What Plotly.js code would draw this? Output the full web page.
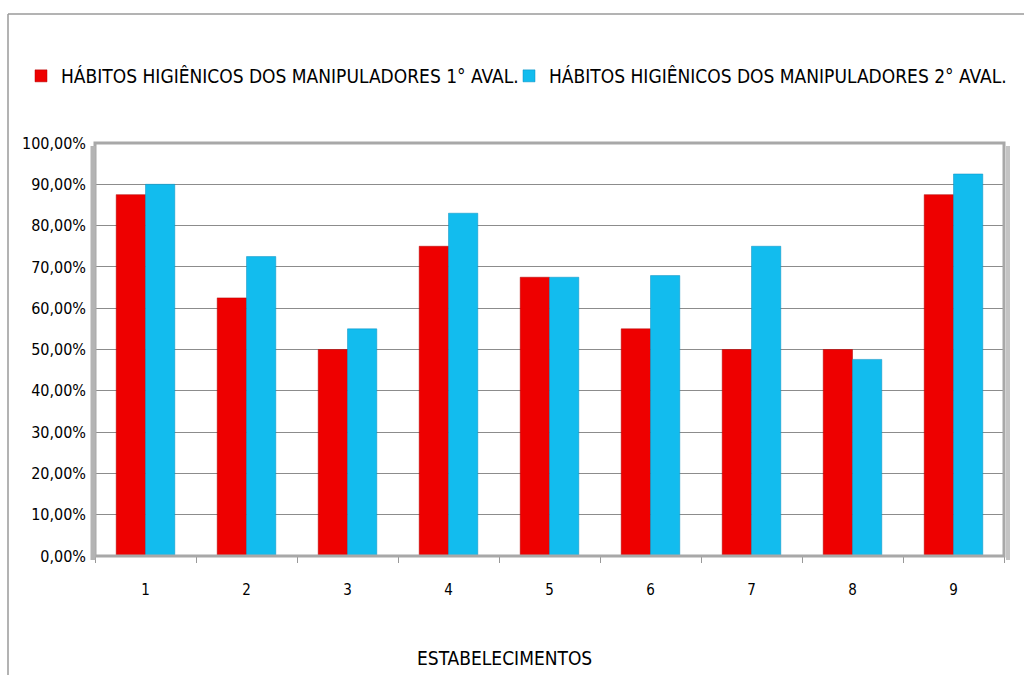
<!DOCTYPE html>
<html>
<head>
<meta charset="utf-8">
<script src="https://cdn.plot.ly/plotly-3.0.1.min.js"></script>
<style>
html,body{margin:0;padding:0;background:#fff;}
#chart{width:1024px;height:675px;}
</style>
</head>
<body>
<div id="chart"></div>
<script>
const categories = ["1","2","3","4","5","6","7","8","9"];
const series1Name = "HÁBITOS HIGIÊNICOS DOS MANIPULADORES 1° AVAL.";
const series2Name = "HÁBITOS HIGIÊNICOS DOS MANIPULADORES 2° AVAL.";
const aval1 = [87.5, 62.5, 50, 75, 67.5, 55, 50, 50, 87.5];
const aval2 = [90, 72.5, 55, 83, 67.5, 67.9, 75, 47.6, 92.5];
const xTitle = "ESTABELECIMENTOS";

const font = "'DejaVu Sans Condensed', 'Liberation Sans', Arial, sans-serif";

const traces = [
  {type:"bar", name:series1Name, x:categories, y:aval1, legend:"legend",
   marker:{color:"#ee0000", line:{color:"#b00000", width:0.5}}, hoverinfo:"y"},
  {type:"bar", name:series2Name, x:categories, y:aval2, legend:"legend2",
   marker:{color:"#12bcee", line:{color:"#0a8fc0", width:0.5}}, hoverinfo:"y"}
];

const L = 95, R = 20, T = 143, B = 119;
const pw = 1024 - L - R, ph = 675 - T - B;
function px2x(p){ return (p - L) / pw; }
function py2y(p){ return 1 - (p - T) / ph; }

const legFont = {size:19, family:font, color:"#000"};
const layout = {
  width:1024, height:675,
  margin:{l:L, r:R, t:T, b:B},
  paper_bgcolor:"#ffffff", plot_bgcolor:"#ffffff",
  separators:",.",
  barmode:"group", bargap:0.42, bargroupgap:0,
  font:{family:font, color:"#111111"},
  showlegend:true,
  legend:{orientation:"h", xref:"container", yref:"container", x:21/1024, y:1-76/675,
          xanchor:"left", yanchor:"middle", font:legFont,
          itemwidth:30, bgcolor:"rgba(0,0,0,0)"},
  legend2:{orientation:"h", xref:"container", yref:"container", x:509/1024, y:1-76/675,
          xanchor:"left", yanchor:"middle", font:legFont,
          itemwidth:30, bgcolor:"rgba(0,0,0,0)"},
  xaxis:{type:"category", tickson:"boundaries", ticks:"outside", ticklen:6, tickcolor:"#999",
         showline:true, linecolor:"#999", linewidth:1, showgrid:false,
         ticklabelstandoff:20,
         tickfont:{size:15, family:font, color:"#000"}},
  yaxis:{range:[0,100], dtick:10, tickformat:".2f", ticksuffix:"%",
         showgrid:true, gridcolor:"#8c8c8c", gridwidth:1, zeroline:false,
         showline:false, ticks:"", ticklabelstandoff:8,
         tickfont:{size:16, family:font, color:"#000"}},
  annotations:[
    {text:xTitle, xref:"paper", yref:"paper", x:px2x(504), y:py2y(658),
     xanchor:"center", yanchor:"middle", showarrow:false,
     font:{size:19, family:font, color:"#000"}}
  ],
  shapes:[
    {type:"line", xref:"paper", yref:"paper", x0:px2x(8), x1:px2x(8), y0:py2y(14), y1:py2y(680),
     line:{color:"#9a9a9a", width:1.5}},
    {type:"line", xref:"paper", yref:"paper", x0:px2x(8), x1:px2x(1030), y0:py2y(14), y1:py2y(14),
     line:{color:"#9a9a9a", width:1.5}},
    {type:"rect", xref:"paper", yref:"paper", x0:0, x1:1, y0:0, y1:1,
     line:{color:"#a8a8a8", width:3}, layer:"above"},
    {type:"line", xref:"paper", yref:"paper", x0:px2x(93), x1:px2x(93), y0:py2y(146), y1:py2y(560),
     line:{color:"#b4b4b4", width:5}},
    {type:"line", xref:"paper", yref:"paper", x0:px2x(1008), x1:px2x(1008), y0:py2y(146), y1:py2y(560),
     line:{color:"#c4c4c4", width:4}}
  ]
};

Plotly.newPlot("chart", traces, layout, {displayModeBar:false, staticPlot:true});
</script>
</body>
</html>
